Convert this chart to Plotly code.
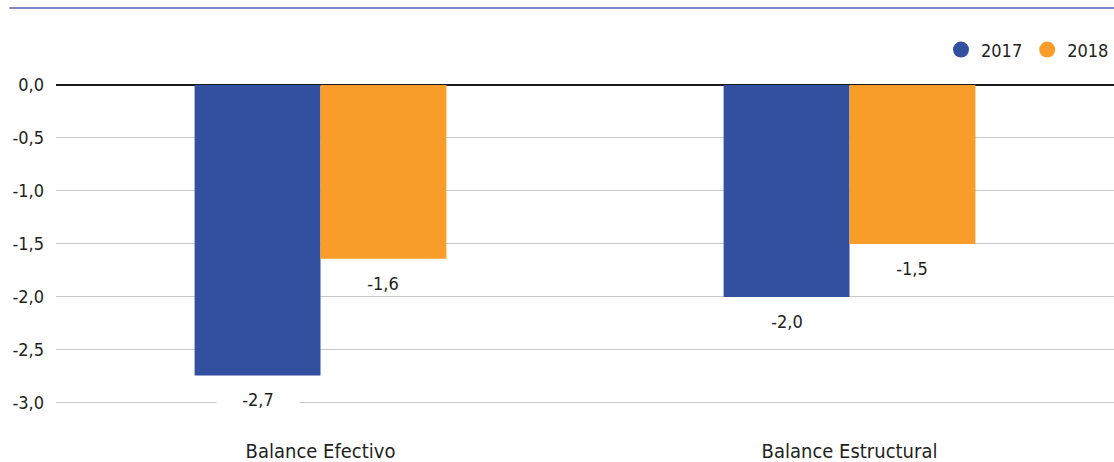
import plotly.graph_objects as go

# Fiscal balance, % of GDP
categories = ["Balance Efectivo", "Balance Estructural"]
years = ["2017", "2018"]
values_2017 = [-2.74, -2.0]
values_2018 = [-1.64, -1.5]
y_ticks = [0.0, -0.5, -1.0, -1.5, -2.0, -2.5, -3.0]


def fmt(v):
    return f"{v:.1f}".replace(".", ",")


colors = {"2017": "#334FA0", "2018": "#F99D2A"}
series = {"2017": values_2017, "2018": values_2018}

FONT = "DejaVu Sans Condensed, Noto Sans, sans-serif"
TEXT = "#231F20"
SIZE = 18
CAT_SIZE = 20
BARGAP = 0.524
bar_w = (1 - BARGAP) / 2

fig = go.Figure()
for year in years:
    fig.add_trace(go.Bar(
        x=list(range(len(categories))), y=series[year], name=year,
        marker=dict(color=colors[year], line=dict(width=0)),
        showlegend=False,
    ))
    # circular legend markers
    fig.add_trace(go.Scatter(
        x=[None], y=[None], mode="markers", name=year,
        marker=dict(color=colors[year], size=16, symbol="circle"),
    ))

# value labels below each bar
for i, year in enumerate(years):
    offset = (i - 0.5) * bar_w
    for j, v in enumerate(series[year]):
        fig.add_annotation(
            x=j + offset, y=v, xref="x", yref="y",
            text=fmt(v),
            showarrow=False, yanchor="middle", yshift=-24,
            bgcolor="white", width=80, height=22,
            font=dict(family=FONT, size=SIZE, color=TEXT),
        )

# thin rule across the top
fig.add_shape(type="line", xref="paper", yref="paper",
              x0=-0.044, x1=1.0, y0=1.2415, y1=1.2415,
              line=dict(color="#4A66B0", width=1.5))

fig.update_layout(
    width=1114, height=462,
    margin=dict(l=56, r=0, t=85, b=58, autoexpand=False),
    paper_bgcolor="white", plot_bgcolor="white",
    barmode="group", bargap=BARGAP, bargroupgap=0,
    font=dict(family=FONT, size=SIZE, color=TEXT),
    legend=dict(orientation="h", x=1.0, xanchor="right", y=1.11, yanchor="middle",
                font=dict(family=FONT, size=SIZE, color=TEXT),
                itemwidth=30, tracegroupgap=0,
                bgcolor="rgba(0,0,0,0)"),
    xaxis=dict(
        range=[-0.5, 1.5], tickmode="array",
        tickvals=list(range(len(categories))), ticktext=categories,
        tickfont=dict(family=FONT, size=CAT_SIZE, color=TEXT),
        showgrid=False, zeroline=False, showline=False, ticks="",
        ticklabelstandoff=33, fixedrange=True,
    ),
    yaxis=dict(
        range=[-3.01, 0.0], tickmode="array", tickvals=y_ticks,
        ticktext=[fmt(t) for t in y_ticks],
        showgrid=True, gridcolor="#C8C8C8", gridwidth=1.2,
        zeroline=True, zerolinecolor="#1A1A1A", zerolinewidth=1.5,
        showline=False, ticks="", ticklabelstandoff=11, fixedrange=True,
    ),
)

fig.write_html("out.html")
